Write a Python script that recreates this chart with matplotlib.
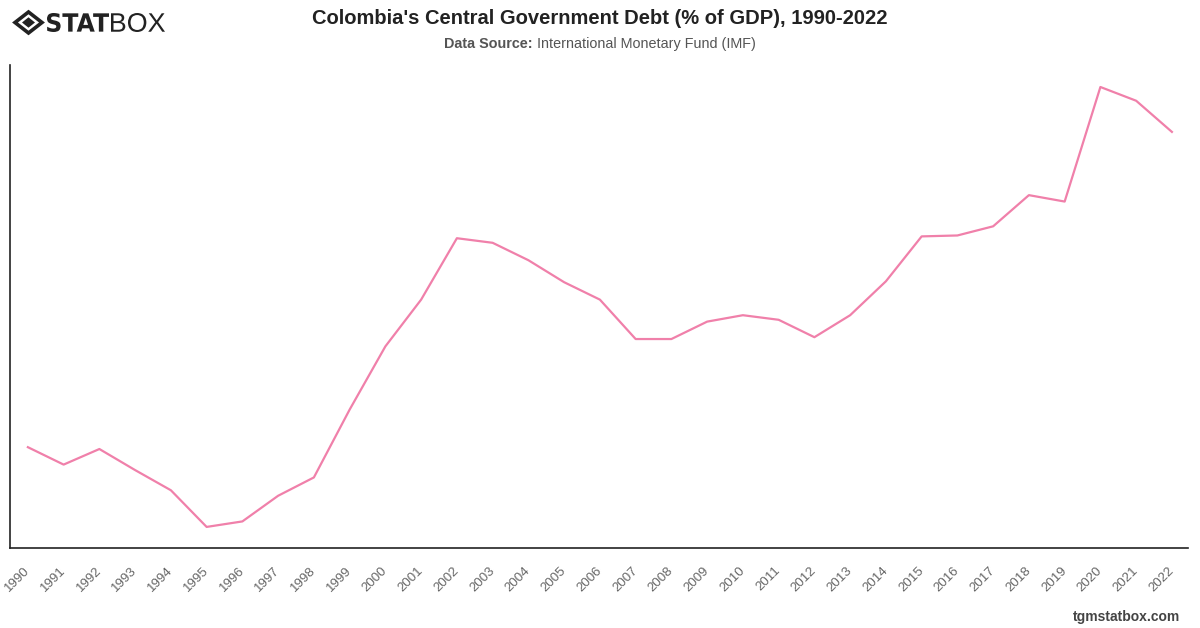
import matplotlib
matplotlib.use("Agg")
import matplotlib.pyplot as plt
from matplotlib.patches import Polygon, PathPatch
from matplotlib.textpath import TextPath
from matplotlib.font_manager import FontProperties
from matplotlib.transforms import Affine2D, IdentityTransform

years = [str(y) for y in range(1990, 2023)]
debt = [22.7, 20.8, 22.5, 20.2, 18.0, 14.0, 14.6, 17.4, 19.4, 26.8,
        33.7, 38.8, 45.5, 45.0, 43.1, 40.7, 38.8, 34.5, 34.5, 36.4,
        37.1, 36.6, 34.7, 37.1, 40.8, 45.7, 45.8, 46.8, 50.2, 49.5,
        62.0, 60.5, 57.1]

title = "Colombia's Central Government Debt (% of GDP), 1990-2022"
source_label = "Data Source:"
source_name = "International Monetary Fund (IMF)"
footer = "tgmstatbox.com"

W, H = 1200, 628
fig = plt.figure(figsize=(W / 100, H / 100), dpi=100)
fig.patch.set_facecolor("white")

ax = fig.add_axes([10 / W, (H - 548) / H, 1178 / W, 483 / H])
x = list(range(len(years)))
ax.plot(x, debt, color="#F080AA", lw=1.6, solid_joinstyle="round")
ax.set_xlim(-0.5, len(years) - 1 + 0.45)
ax.set_ylim(11.7, 64.4)
ax.set_xticks(x)
ax.set_xticklabels(years, rotation=45, ha="right", va="center", rotation_mode="anchor",
                   fontsize=9.5, color="#666666", family="Liberation Sans")
ax.tick_params(axis="x", length=0, pad=15)
ax.set_yticks([])
for s in ["top", "right"]:
    ax.spines[s].set_visible(False)
for s in ["left", "bottom"]:
    ax.spines[s].set_color("#222222")
    ax.spines[s].set_linewidth(1.2)

fig.text(600 / W, 1 - 18 / H, title, ha="center", va="center", fontsize=14.5,
         fontweight="bold", color="#222222", family="Liberation Sans")

# subtitle: bold label + normal name, centred as a whole
renderer = fig.canvas.get_renderer()
t1 = fig.text(0, 1 - 44 / H, source_label + " ", ha="left", va="center", fontsize=10.4,
              fontweight="bold", color="#555555", family="Liberation Sans")
t2 = fig.text(0, 1 - 44 / H, source_name, ha="left", va="center",
              fontsize=10.4, color="#555555", family="Liberation Sans")
w1 = t1.get_window_extent(renderer).width
w2 = t2.get_window_extent(renderer).width
x0 = 600 - (w1 + w2) / 2
t1.set_position((x0 / W, 1 - 44 / H))
t2.set_position(((x0 + w1) / W, 1 - 44 / H))

fig.text(1180 / W, 1 - 617 / H, footer, ha="right", va="center", fontsize=10,
         fontweight="bold", color="#444444", family="Liberation Sans")

# logo
def px(xp, yp):
    return (xp / W, 1 - yp / H)

cx, cy, rx, ry = 28.5, 22.5, 13.5, 10.5
outer = Polygon([px(cx, cy - ry), px(cx + rx, cy), px(cx, cy + ry), px(cx - rx, cy)],
                closed=True, fill=False, ec="#222222", lw=2.6, joinstyle="miter",
                transform=fig.transFigure)
ix, iy = 6.5, 5.2
inner = Polygon([px(cx, cy - iy), px(cx + ix, cy), px(cx, cy + iy), px(cx - ix, cy)],
                closed=True, fc="#222222", ec="none", transform=fig.transFigure)
fig.add_artist(outer)
fig.add_artist(inner)


def text_in_box(s, fp, x0, x1, ytop, ybot, color):
    tp = TextPath((0, 0), s, size=100, prop=fp)
    bb = tp.get_extents()
    sx = (x1 - x0) / bb.width
    sy = (ybot - ytop) / bb.height
    tr = Affine2D().translate(-bb.x0, -bb.y0).scale(sx, sy).translate(x0, H - ybot)
    fig.add_artist(PathPatch(tr.transform_path(tp), fc=color, ec="none",
                             transform=IdentityTransform()))


text_in_box("STAT", FontProperties(family="DejaVu Sans", weight="bold"), 47, 109, 13, 32, "#222222")
text_in_box("BOX", FontProperties(family="Liberation Sans", weight="normal"), 111, 165, 13, 32, "#222222")

fig.savefig("out.png", dpi=100, facecolor="white")
